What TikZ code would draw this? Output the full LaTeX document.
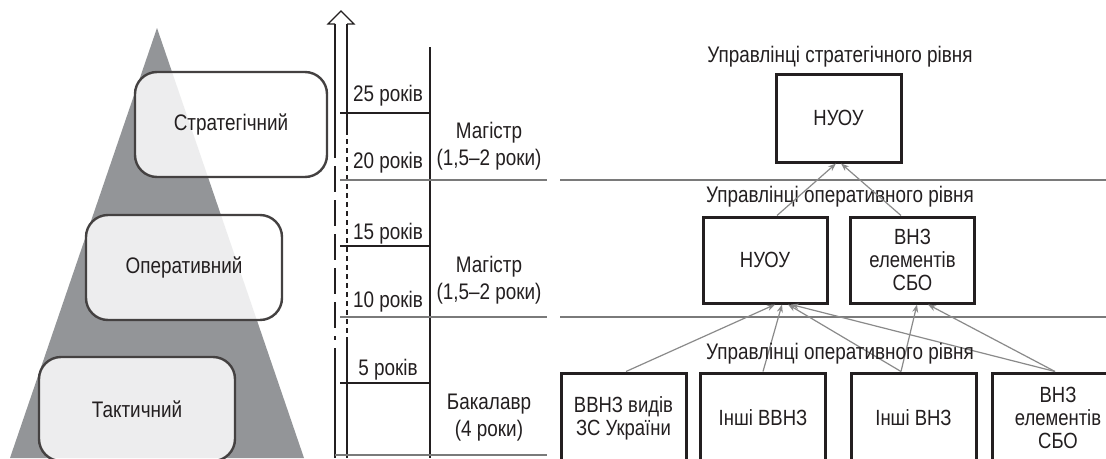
\documentclass[tikz,border=0pt]{standalone}
\usepackage{fontspec}
\setmainfont{Liberation Sans}[FakeStretch=0.84]
\usetikzlibrary{arrows.meta}
\definecolor{ink}{HTML}{231F20}
\definecolor{tri}{HTML}{939598}
\definecolor{rule}{HTML}{7A7A7A}
\definecolor{arr}{HTML}{8A8A8A}
\tikzset{
  lvl/.style={rounded corners=22pt, draw=ink!85, line width=2.4pt, fill=white, fill opacity=0.84, text opacity=1, text=ink, font=\fontsize{22.5}{26}\selectfont},
  ubox/.style={draw=ink, line width=3pt, fill=white, text=ink, align=center, inner sep=0pt, font=\fontsize{22}{23}\selectfont},
  lbl/.style={text=ink, align=center, inner sep=0pt, font=\fontsize{22.5}{27}\selectfont},
  thin/.style={draw=ink, line width=1.1pt},
  grule/.style={draw=rule, line width=1.4pt},
  conn/.style={draw=arr, line width=1.2pt, -{Stealth[length=8pt,width=6pt]}},
}
\begin{document}
\begin{tikzpicture}[x=1pt,y=-1pt]
\clip (0,0) rectangle (1106,458);
\fill[white] (0,0) rectangle (1106,458);
% pyramid
\fill[tri] (157,28) -- (10,458) -- (304,458) -- cycle;
\node[lvl, minimum width=192pt, minimum height=105pt] (strat) at (231,124.5) {Стратегічний};
\node[lvl, minimum width=196pt, minimum height=105pt] (oper) at (184,267.5) {Оперативний};
\node[lvl, minimum width=196pt, minimum height=104pt] (takt) at (137,409) {Тактичний};
% hollow arrow
\draw[thin, line join=miter] (335,24) -- (328,24) -- (341,11) -- (354,24) -- (347,24);
\draw[thin] (335,24) -- (335,132);
\draw[thin, dash pattern=on 26pt off 8pt] (335,132) -- (335,340);
\draw[thin] (335,348) -- (335,458);
\draw[thin] (347,24) -- (347,130);
\draw[thin, dash pattern=on 5pt off 4pt] (347,130) -- (347,338);
\draw[thin] (347,338) -- (347,458);
% scale column
\draw[thin] (430,47) -- (430,458);
\draw[thin] (340,113) -- (430,113);
\draw[thin] (340,246) -- (430,246);
\draw[thin] (340,383) -- (430,383);
\draw[grule] (340,180) -- (547,180);
\draw[grule] (340,317) -- (547,317);
\draw[grule] (335,455) -- (547,455);
\node[lbl] (y25) at (388,96) {25 років};
\node[lbl] (y20) at (388,163) {20 років};
\node[lbl] (y15) at (388,234) {15 років};
\node[lbl] (y10) at (388,302) {10 років};
\node[lbl] (y5) at (388,370) {5 років};
\node[lbl] (m1) at (489,146) {Магістр\\(1,5–2 роки)};
\node[lbl] (m2) at (489,280) {Магістр\\(1,5–2 роки)};
\node[lbl] (bak) at (489,418) {Бакалавр\\(4 роки)};
% right panel
\draw[grule] (560,180) -- (1106,180);
\draw[grule] (560,317) -- (1106,317);
\node[lbl] (l1) at (840,57) {Управлінці стратегічного рівня};
\node[lbl] (l2) at (840,197) {Управлінці оперативного рівня};
\node[ubox, minimum width=125pt, minimum height=88pt] (top) at (838.5,118) {НУОУ};
\node[ubox, minimum width=124pt, minimum height=86pt] (mid1) at (765,260) {НУОУ};
\node[ubox, minimum width=124pt, minimum height=86pt] (mid2) at (912.5,260) {ВНЗ\\елементів\\СБО};
\node[ubox, minimum width=125pt, minimum height=90pt] (b1) at (623.5,418) {ВВНЗ видів\\ЗС України};
\node[ubox, minimum width=125pt, minimum height=90pt] (b2) at (763,418) {Інші ВВНЗ};
\node[ubox, minimum width=125pt, minimum height=90pt] (b3) at (913.5,418) {Інші ВНЗ};
\node[ubox, minimum width=132pt, minimum height=90pt] (b4) at (1058,418) {ВНЗ\\елементів\\СБО};
\draw[conn] ([xshift=2.5pt]b1.north) -- ([xshift=10pt]mid1.south);
\draw[conn] (b2.north) -- ([xshift=17pt]mid1.south);
\draw[conn] ([xshift=-12.5pt]b3.north) -- ([xshift=23pt]mid1.south);
\draw[conn] ([xshift=-12.5pt]b3.north) -- ([xshift=4.5pt]mid2.south);
\draw[conn] ([xshift=-3pt]b4.north) -- ([xshift=26pt]mid1.south);
\draw[conn] ([xshift=-3pt]b4.north) -- ([xshift=15.5pt]mid2.south);
\draw[conn] ([xshift=12pt]mid1.north) -- ([xshift=-2.5pt]top.south);
\draw[conn] ([xshift=-11.5pt]mid2.north) -- ([xshift=2.5pt]top.south);
\node[lbl] (l3) at (840,354) {Управлінці оперативного рівня};
\end{tikzpicture}
\end{document}
